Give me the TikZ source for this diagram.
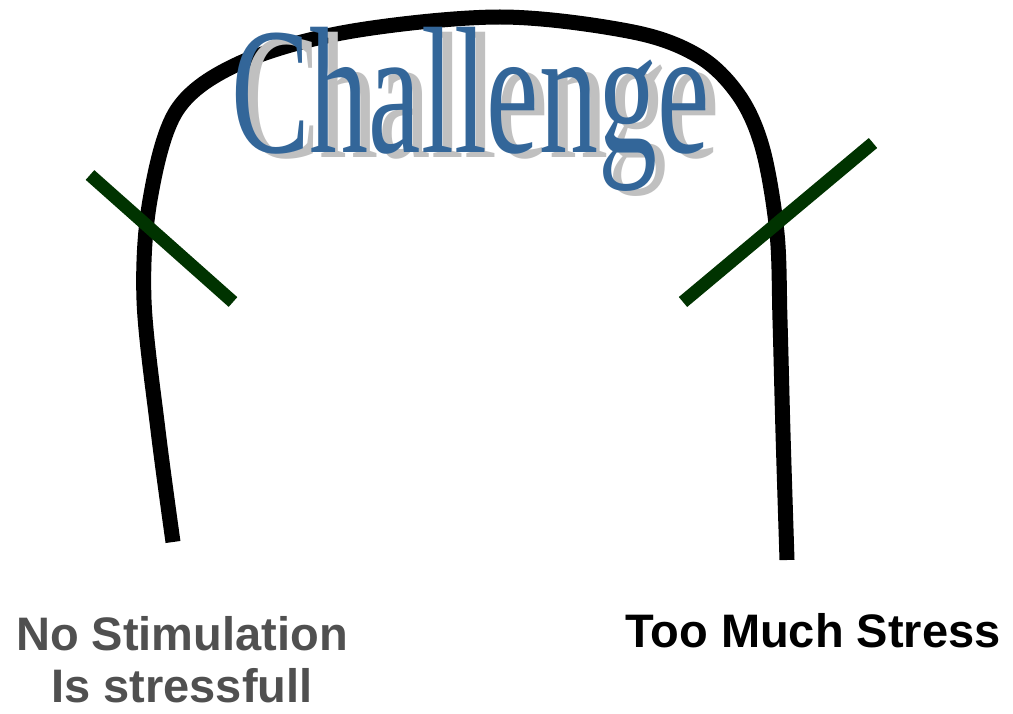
\documentclass[tikz,border=0pt]{standalone}
\usepackage{fontspec}
\setmainfont{Liberation Sans}
\newfontfamily\chalfont{Liberation Serif}
\definecolor{chblue}{RGB}{51,102,153}
\definecolor{chshadow}{RGB}{192,192,192}
\definecolor{markgreen}{RGB}{0,51,0}
\definecolor{labelgray}{RGB}{80,80,80}
\newcommand{\chalword}{\scalebox{1}[1.53]{Challenge}}
\begin{document}
\begin{tikzpicture}[x=1pt,y=-1pt,
  curveline/.style={line width=15pt,black},
  markline/.style={line width=13pt,markgreen,line cap=butt},
  chal/.style={anchor=base west,inner sep=0pt,font=\fontsize{118}{118}\selectfont\chalfont},
  lbl/.style={inner sep=0pt,font=\fontsize{47}{52}\selectfont\bfseries,align=center}]
\useasboundingbox (0,0) rectangle (1013,714);
\fill[white] (0,0) rectangle (1013,714);
\draw[curveline] plot[smooth,tension=0.55] coordinates {(173,542) (158,430) (144,300) (150,200) (177,110) (240,63) (347,32) (500,17) (633,32) (700,57) (740,97) (763,150) (777,233) (780,320) (783,433) (787,560)};
\coordinate (g1a) at (90,175);
\coordinate (g1b) at (233,302);
\coordinate (g2a) at (873,143);
\coordinate (g2b) at (683,302);
\draw[markline] (g1a) -- (g1b);
\draw[markline] (g2a) -- (g2b);
\node[chal,text=chshadow] (chs) at (241,158) {\chalword};
\node[chal,text=chblue] (ch) at (231,153) {\chalword};
\node[lbl,text=labelgray,anchor=base] (left) at (182,702) {No Stimulation\\Is stressfull};
\node[lbl,text=black,anchor=base] (right) at (813,647) {Too Much Stress};
\end{tikzpicture}
\end{document}
